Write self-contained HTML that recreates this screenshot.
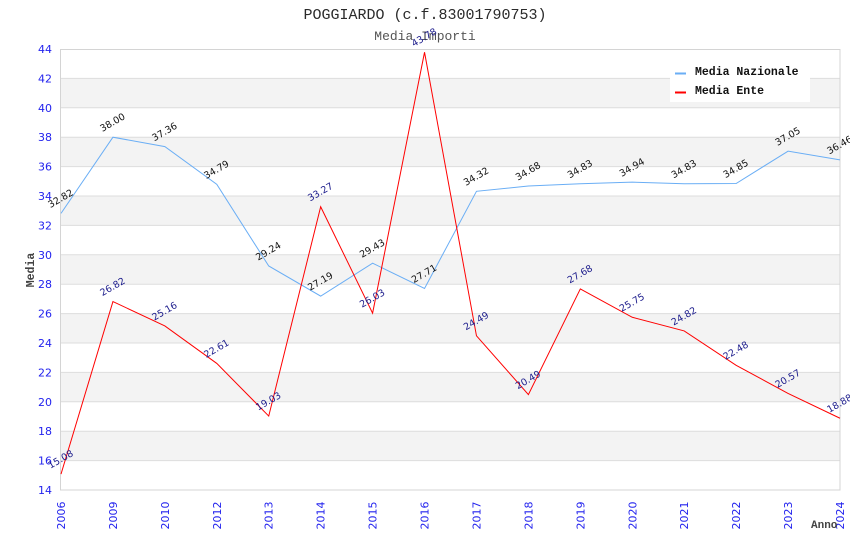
<!DOCTYPE html>
<html><head><meta charset="utf-8"><style>
html,body{margin:0;padding:0;background:#fff;}
svg{display:block;}
</style></head><body>
<svg width="850" height="550" viewBox="0 0 850 550" xmlns="http://www.w3.org/2000/svg">
<rect width="850" height="550" fill="#fff"/>
<g fill="#f3f3f3">
<rect x="61" y="78.4" width="779" height="29.4"/>
<rect x="61" y="137.2" width="779" height="29.4"/>
<rect x="61" y="196" width="779" height="29.4"/>
<rect x="61" y="254.8" width="779" height="29.4"/>
<rect x="61" y="313.6" width="779" height="29.4"/>
<rect x="61" y="372.4" width="779" height="29.4"/>
<rect x="61" y="431.2" width="779" height="29.4"/>
</g>
<g stroke="#dddddd" stroke-width="1">
<line x1="61" x2="840" y1="78.4" y2="78.4"/>
<line x1="61" x2="840" y1="107.8" y2="107.8"/>
<line x1="61" x2="840" y1="137.2" y2="137.2"/>
<line x1="61" x2="840" y1="166.6" y2="166.6"/>
<line x1="61" x2="840" y1="196" y2="196"/>
<line x1="61" x2="840" y1="225.4" y2="225.4"/>
<line x1="61" x2="840" y1="254.8" y2="254.8"/>
<line x1="61" x2="840" y1="284.2" y2="284.2"/>
<line x1="61" x2="840" y1="313.6" y2="313.6"/>
<line x1="61" x2="840" y1="343" y2="343"/>
<line x1="61" x2="840" y1="372.4" y2="372.4"/>
<line x1="61" x2="840" y1="401.8" y2="401.8"/>
<line x1="61" x2="840" y1="431.2" y2="431.2"/>
<line x1="61" x2="840" y1="460.6" y2="460.6"/>
</g>
<rect x="60.5" y="49.5" width="779.5" height="440.5" fill="none" stroke="#d4d4d4" stroke-width="1"/>

<text x="425" y="19" text-anchor="middle" font-family="Liberation Mono, monospace" font-size="15" fill="#2a2a2a">POGGIARDO (c.f.83001790753)</text>
<text x="425" y="40" text-anchor="middle" font-family="Liberation Mono, monospace" font-size="13" fill="#555">Media Importi</text>

<g font-family="DejaVu Sans, sans-serif" font-size="11" fill="#2323ee" text-anchor="end">
<text x="52" y="53">44</text>
<text x="52" y="82.4">42</text>
<text x="52" y="111.8">40</text>
<text x="52" y="141.2">38</text>
<text x="52" y="170.6">36</text>
<text x="52" y="200">34</text>
<text x="52" y="229.4">32</text>
<text x="52" y="258.8">30</text>
<text x="52" y="288.2">28</text>
<text x="52" y="317.6">26</text>
<text x="52" y="347">24</text>
<text x="52" y="376.4">22</text>
<text x="52" y="405.8">20</text>
<text x="52" y="435.2">18</text>
<text x="52" y="464.6">16</text>
<text x="52" y="494">14</text>
</g>

<g font-family="DejaVu Sans, sans-serif" font-size="11" fill="#2323ee" text-anchor="end">
<text transform="translate(65,501.5) rotate(-90)">2006</text>
<text transform="translate(116.9,501.5) rotate(-90)">2009</text>
<text transform="translate(168.9,501.5) rotate(-90)">2010</text>
<text transform="translate(220.8,501.5) rotate(-90)">2012</text>
<text transform="translate(272.7,501.5) rotate(-90)">2013</text>
<text transform="translate(324.7,501.5) rotate(-90)">2014</text>
<text transform="translate(376.6,501.5) rotate(-90)">2015</text>
<text transform="translate(428.5,501.5) rotate(-90)">2016</text>
<text transform="translate(480.5,501.5) rotate(-90)">2017</text>
<text transform="translate(532.4,501.5) rotate(-90)">2018</text>
<text transform="translate(584.3,501.5) rotate(-90)">2019</text>
<text transform="translate(636.3,501.5) rotate(-90)">2020</text>
<text transform="translate(688.2,501.5) rotate(-90)">2021</text>
<text transform="translate(740.1,501.5) rotate(-90)">2022</text>
<text transform="translate(792.1,501.5) rotate(-90)">2023</text>
<text transform="translate(844,501.5) rotate(-90)">2024</text>
</g>

<text transform="translate(34,270) rotate(-90)" text-anchor="middle" font-family="Liberation Mono, monospace" font-weight="bold" font-size="11.5" fill="#444">Media</text>
<text x="811" y="528" font-family="Liberation Mono, monospace" font-weight="bold" font-size="11" fill="#444">Anno</text>

<polyline fill="none" stroke="#6aaef5" stroke-width="1" points="61,213.35 112.93,137.2 164.87,146.61 216.8,184.39 268.73,265.97 320.67,296.11 372.6,263.18 424.53,288.46 476.47,191.3 528.4,186 580.33,183.8 632.27,182.18 684.2,183.8 736.13,183.5 788.07,151.16 840,159.84"/>
<polyline fill="none" stroke="#ff0000" stroke-width="1" points="61,474.12 112.93,301.55 164.87,325.95 216.8,363.43 268.73,416.06 320.67,206.73 372.6,313.16 424.53,52.23 476.47,335.8 528.4,394.6 580.33,288.9 632.27,317.27 684.2,330.95 736.13,365.34 788.07,393.42 840,418.26"/>

<g font-family="DejaVu Sans, sans-serif" font-size="9.5" fill="#111" text-anchor="middle">
<text transform="translate(60.5,198.35) rotate(-30)" dy="3.4">32.82</text>
<text transform="translate(112.4,122.2) rotate(-30)" dy="3.4">38.00</text>
<text transform="translate(164.4,131.6) rotate(-30)" dy="3.4">37.36</text>
<text transform="translate(216.3,169.4) rotate(-30)" dy="3.4">34.79</text>
<text transform="translate(268.2,250.97) rotate(-30)" dy="3.4">29.24</text>
<text transform="translate(320.2,281.1) rotate(-30)" dy="3.4">27.19</text>
<text transform="translate(372.1,248.2) rotate(-30)" dy="3.4">29.43</text>
<text transform="translate(424,273.5) rotate(-30)" dy="3.4">27.71</text>
<text transform="translate(476,176.3) rotate(-30)" dy="3.4">34.32</text>
<text transform="translate(527.9,171) rotate(-30)" dy="3.4">34.68</text>
<text transform="translate(579.8,168.8) rotate(-30)" dy="3.4">34.83</text>
<text transform="translate(631.8,167.2) rotate(-30)" dy="3.4">34.94</text>
<text transform="translate(683.7,168.8) rotate(-30)" dy="3.4">34.83</text>
<text transform="translate(735.6,168.5) rotate(-30)" dy="3.4">34.85</text>
<text transform="translate(787.6,136.2) rotate(-30)" dy="3.4">37.05</text>
<text transform="translate(839.5,144.8) rotate(-30)" dy="3.4">36.46</text>
</g>
<g font-family="DejaVu Sans, sans-serif" font-size="9.5" fill="#1c1c8c" text-anchor="middle">
<text transform="translate(60.5,459.1) rotate(-30)" dy="3.4">15.08</text>
<text transform="translate(112.4,286.55) rotate(-30)" dy="3.4">26.82</text>
<text transform="translate(164.4,310.95) rotate(-30)" dy="3.4">25.16</text>
<text transform="translate(216.3,348.4) rotate(-30)" dy="3.4">22.61</text>
<text transform="translate(268.2,401.06) rotate(-30)" dy="3.4">19.03</text>
<text transform="translate(320.2,191.73) rotate(-30)" dy="3.4">33.27</text>
<text transform="translate(372.1,298.16) rotate(-30)" dy="3.4">26.03</text>
<text transform="translate(424,37.23) rotate(-30)" dy="3.4">43.78</text>
<text transform="translate(476,320.8) rotate(-30)" dy="3.4">24.49</text>
<text transform="translate(527.9,379.6) rotate(-30)" dy="3.4">20.49</text>
<text transform="translate(579.8,273.9) rotate(-30)" dy="3.4">27.68</text>
<text transform="translate(631.8,302.27) rotate(-30)" dy="3.4">25.75</text>
<text transform="translate(683.7,315.95) rotate(-30)" dy="3.4">24.82</text>
<text transform="translate(735.6,350.34) rotate(-30)" dy="3.4">22.48</text>
<text transform="translate(787.6,378.42) rotate(-30)" dy="3.4">20.57</text>
<text transform="translate(839.5,403.26) rotate(-30)" dy="3.4">18.88</text>
</g>

<rect x="670" y="60" width="140" height="42" fill="#fff"/>
<rect x="675" y="72.5" width="11" height="2" fill="#6aaef5"/>
<rect x="675" y="91.5" width="11" height="2" fill="#ff0000"/>
<g font-family="Liberation Mono, monospace" font-weight="bold" font-size="11.5" fill="#111">
<text x="695" y="75">Media Nazionale</text>
<text x="695" y="94">Media Ente</text>
</g>
</svg>
</body></html>
